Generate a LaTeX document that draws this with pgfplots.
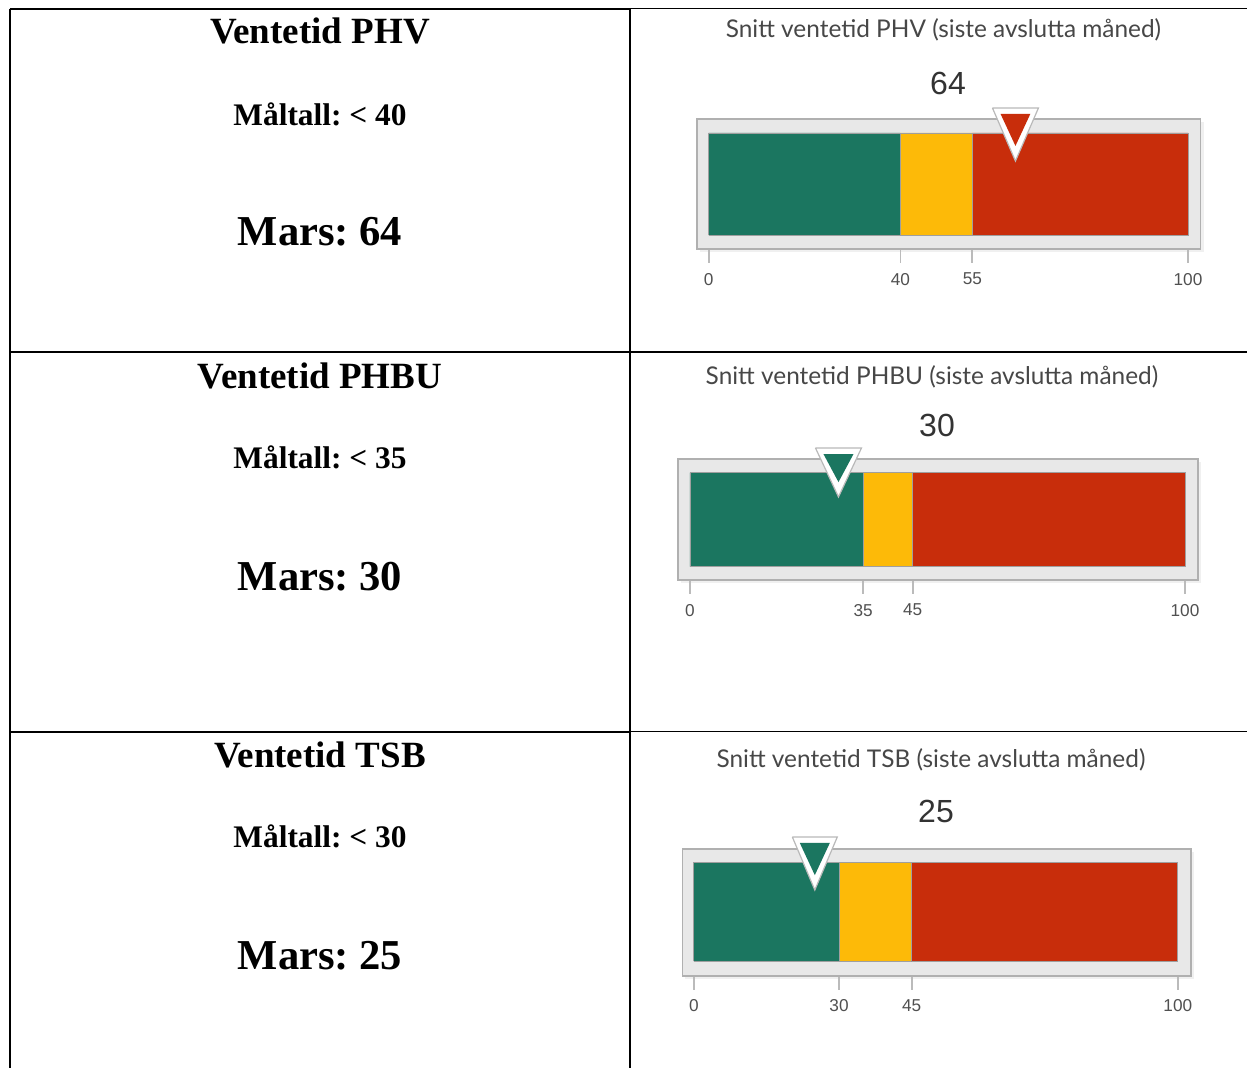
\documentclass[border=0pt]{standalone}
\usepackage{fontspec}
\setmainfont{Liberation Serif}
\newfontfamily\lato{Lato}
\newfontfamily\arial{Liberation Sans}
\usepackage{pgfplots}
\pgfplotsset{compat=1.18}
\usetikzlibrary{shadows}
\frenchspacing
\definecolor{gg}{HTML}{1B7660}
\definecolor{gy}{HTML}{FDBA08}
\definecolor{gr}{HTML}{C82D0B}
\definecolor{fbg}{HTML}{E8E8E8}
\definecolor{fbd}{HTML}{B0B0B0}
\definecolor{tk}{HTML}{BBBBBB}
\definecolor{tl}{HTML}{505050}
\definecolor{tt}{HTML}{474747}
\definecolor{tv}{HTML}{333333}
\tikzset{seg/.style={draw=gray!75, line width=0.4pt},
  mk/.style={fill=white, draw=gray!55, line width=0.6pt, line join=miter}}
\pgfplotsset{gauge/.style={
  scale only axis, anchor=north west, clip=false,
  ytick=\empty, xtick pos=bottom, tick align=outside,
  major tick length=7pt,
  tick style={tk, line width=0.9pt},
  axis line style={fbd, line width=0.8pt},
  axis background/.style={fill=fbg, drop shadow={shadow xshift=1.5pt, shadow yshift=-1.5pt, opacity=0.12}},
  /pgf/number format/assume math mode=true,
  xticklabel style={font=\arial\fontsize{8.6}{10}\selectfont, text=tl, yshift=-1.5pt},
}}
\begin{document}
\begin{tikzpicture}
\useasboundingbox (0pt,0pt) rectangle (623.5pt,-534pt);
% table rules
\draw[line width=1pt] (4.75pt,-4.5pt) -- (315pt,-4.5pt);
\draw[line width=0.7pt] (315pt,-4.3pt) -- (623.5pt,-4.3pt);
\draw[line width=1pt] (4.75pt,-4.5pt) -- (4.75pt,-534pt);
\draw[line width=1pt] (314.75pt,-4.5pt) -- (314.75pt,-534pt);
\draw[line width=1pt] (4.75pt,-176pt) -- (315pt,-176pt);
\draw[line width=0.7pt] (315pt,-176pt) -- (623.5pt,-176pt);
\draw[line width=1pt] (4.75pt,-365.75pt) -- (315pt,-365.75pt);
\draw[line width=0.7pt] (315pt,-365.75pt) -- (623.5pt,-365.75pt);
% left texts
\tikzset{hd/.style={anchor=base, font=\bfseries\fontsize{18.5}{22}\selectfont},
  ml/.style={anchor=base, font=\bfseries\fontsize{15.7}{19}\selectfont},
  ms/.style={anchor=base, font=\bfseries\fontsize{21.3}{25}\selectfont}}
\node[hd] at (160pt,-22pt) {Ventetid PHV};
\node[ml] at (160pt,-63pt) {Måltall: < 40};
\node[ms] at (160pt,-123pt) {Mars: 64};
\node[hd] at (160pt,-194.5pt) {Ventetid PHBU};
\node[ml] at (160pt,-234.5pt) {Måltall: < 35};
\node[ms] at (160pt,-295.5pt) {Mars: 30};
\node[hd] at (160pt,-383.5pt) {Ventetid TSB};
\node[ml] at (160pt,-423.5pt) {Måltall: < 30};
\node[ms] at (160pt,-484.5pt) {Mars: 25};
% gauge titles and values
\tikzset{gt/.style={font=\lato\fontsize{12.2}{14}\selectfont, text=tt},
  gv/.style={font=\arial\fontsize{16}{19}\selectfont, text=tv}}
\node[gt] at (471.75pt,-15pt) {Snitt ventetid PHV (siste avslutta måned)};
\node[gv] at (474pt,-41.5pt) {64};
\node[gt] at (466pt,-188.3pt) {Snitt ventetid PHBU (siste avslutta måned)};
\node[gv] at (468.5pt,-212.5pt) {30};
\node[gt] at (465.5pt,-380pt) {Snitt ventetid TSB (siste avslutta måned)};
\node[gv] at (468pt,-405.8pt) {25};
% gauge 1: PHV
\begin{axis}[gauge, at={(348.5pt,-59.5pt)}, width=251.8pt, height=65pt,
  xmin=-2.44, xmax=102.63, ymin=-0.137, ymax=1.137, xtick={0,40,55,100}]
\addplot[seg, fill=gg] coordinates {(0,0) (40,0) (40,1) (0,1) (0,0)};
\addplot[seg, fill=gy] coordinates {(40,0) (55,0) (55,1) (40,1) (40,0)};
\addplot[seg, fill=gr] coordinates {(55,0) (100,0) (100,1) (55,1) (55,0)};
\addplot[mk] coordinates {(59.2,1.245) (68.8,1.245) (64,0.725) (59.2,1.245)};
\addplot[fill=gr, draw=none] coordinates {(60.9,1.186) (67.1,1.186) (64,0.873) (60.9,1.186)};
\end{axis}
% gauge 2: PHBU
\begin{axis}[gauge, at={(339pt,-229.5pt)}, width=260pt, height=60.5pt,
  xmin=-2.42, xmax=102.63, ymin=-0.1415, ymax=1.1457, xtick={0,35,45,100}]
\addplot[seg, fill=gg] coordinates {(0,0) (35,0) (35,1) (0,1) (0,0)};
\addplot[seg, fill=gy] coordinates {(35,0) (45,0) (45,1) (35,1) (35,0)};
\addplot[seg, fill=gr] coordinates {(45,0) (100,0) (100,1) (45,1) (45,0)};
\addplot[mk] coordinates {(25.35,1.263) (34.65,1.263) (30,0.742) (25.35,1.263)};
\addplot[fill=gg, draw=none] coordinates {(26.97,1.198) (33.03,1.198) (30,0.9) (26.97,1.198)};
\end{axis}
% gauge 3: TSB
\begin{axis}[gauge, at={(341.15pt,-424.5pt)}, width=254.25pt, height=63.35pt,
  xmin=-2.38, xmax=102.69, ymin=-0.145, ymax=1.134, xtick={0,30,45,100}]
\addplot[seg, fill=gg] coordinates {(0,0) (30,0) (30,1) (0,1) (0,0)};
\addplot[seg, fill=gy] coordinates {(30,0) (45,0) (45,1) (30,1) (30,0)};
\addplot[seg, fill=gr] coordinates {(45,0) (100,0) (100,1) (45,1) (45,0)};
\addplot[mk] coordinates {(20.35,1.256) (29.65,1.256) (25,0.72) (20.35,1.256)};
\addplot[fill=gg, draw=none] coordinates {(21.9,1.195) (28.1,1.195) (25,0.87) (21.9,1.195)};
\end{axis}
\end{tikzpicture}
\end{document}
